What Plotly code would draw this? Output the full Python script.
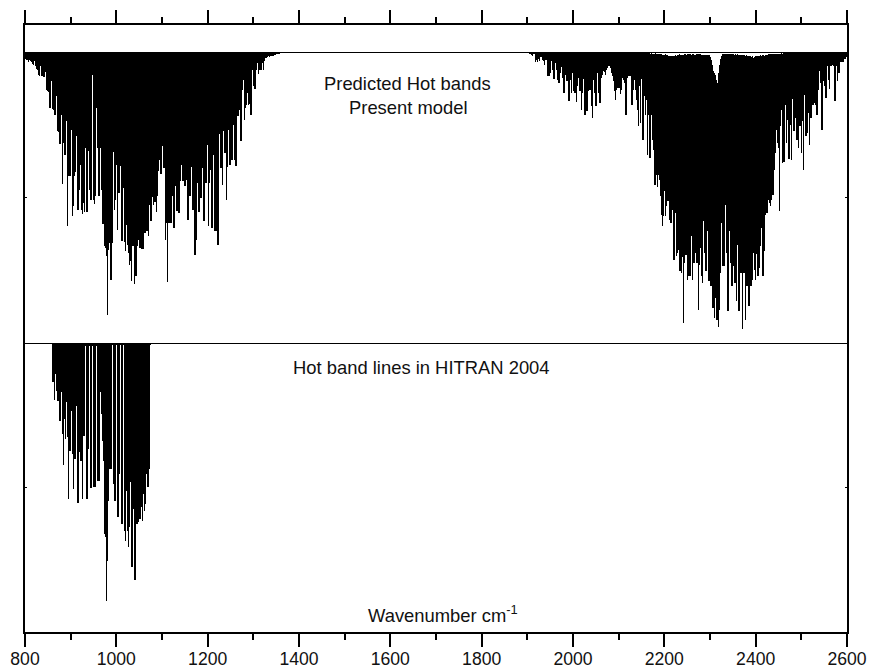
import plotly.graph_objects as go

# Absorption depth, arbitrary units (larger = stronger line). Baseline of both panels = 9.
BASE = 9
STEP = 1800 / 822

# Predicted hot bands, low-wavenumber band
pred_a_start = 800 + 0.5 * STEP
pred_a = [
 28,30,32,38,32,35,38,42,45,35,50,58,62,75,78,50,78,80,82,82,
 68,120,125,128,175,175,95,178,180,195,195,140,245,248,283,283,195,402,280,315,
 315,215,530,378,378,378,240,498,470,380,368,260,482,482,420,345,480,492,460,488,
 295,488,488,305,420,450,450,75,450,462,440,175,295,440,440,295,420,522,522,590,
 595,620,795,600,580,690,690,580,308,482,450,345,540,430,430,350,575,575,415,578,
 605,525,585,610,645,635,695,590,590,702,680,680,590,570,595,595,597,597,598,550,
 550,545,545,560,465,515,515,442,465,458,458,488,440,365,330,372,372,290,355,355,
 570,520,697,520,520,520,520,440,535,535,410,485,485,490,490,395,345,395,395,410,
 410,390,510,510,440,440,352,480,480,615,615,572,400,488,488,445,445,355,515,515,
 400,400,285,530,400,360,535,535,315,545,545,545,585,585,252,355,355,405,245,310,
 310,450,352,240,345,345,330,330,225,330,350,350,200,200,180,275,275,120,92,210,
 175,165,130,165,162,197,197,60,110,118,118,60,40,72,62,62,62,40,60,35,
 25,25,22,20,22,20,18,18,18,16,16,14,14,12,11,10,10,10,
]

# Predicted hot bands, high-wavenumber band
pred_b_start = 800 + 503.5 * STEP
pred_b = [
 10,12,
 12,16,20,14,12,38,30,38,28,35,22,22,30,35,45,32,32,80,78,78,
 70,33,60,88,88,40,60,90,100,100,70,52,85,130,130,75,95,95,155,155,
 90,130,70,125,130,130,158,110,85,125,125,180,130,88,195,195,185,185,125,120,
 120,170,205,90,130,168,168,70,130,160,160,85,75,65,68,75,60,55,48,48,
 55,70,80,95,125,150,120,115,115,115,132,120,85,90,100,197,197,85,80,80,
 80,165,165,120,90,120,150,180,230,110,
 220,88,270,270,140,195,150,315,195,325,325,195,270,300,405,405,375,412,375,390,
 440,495,528,500,425,500,470,455,455,510,520,520,480,630,630,490,620,610,600,665,
 665,670,622,820,640,615,615,690,680,680,680,560,690,640,640,610,640,640,780,645,
 595,680,700,515,610,665,665,545,695,695,710,710,775,775,805,745,810,810,832,780,
 670,520,650,650,650,465,610,785,785,545,640,710,710,650,700,700,755,585,785,785,
 670,670,838,670,670,812,710,710,768,768,710,710,692,610,660,690,612,680,680,655,
 590,535,678,678,605,495,490,490,450,460,468,450,435,435,360,310,240,280,295,485,
 230,180,340,338,338,165,280,212,328,328,225,332,148,245,245,205,270,270,295,230,
 230,310,215,360,135,258,258,250,190,285,205,205,165,165,160,165,195,195,120,65,
 100,242,242,95,110,145,145,50,90,118,50,50,45,50,155,155,50,93,70,70,
 38,38,38,38,28,28,22,
]

# White gaps at the top of the high band (Q-branch dip near 2320), read from the top edge
gap_start = 800 + 624.5 * STEP
gap = [
 10,11,10,12,11,12,10,11,13,12,12,14,13,15,16,15,14,15,17,18,
 18,19,18,20,20,18,17,18,16,15,14,15,16,15,15,14,14,15,14,13,
 13,14,15,14,14,15,15,14,14,13,13,14,15,16,15,16,17,15,16,16,
 17,22,30,45,65,70,75,90,100,70,45,28,18,13,12,12,11,12,11,12,
 13,13,12,14,13,15,14,15,14,15,16,16,15,17,16,17,18,17,19,20,
 18,19,22,20,24,22,20,19,20,18,18,17,18,16,17,18,16,15,15,14,
 14,13,14,13,14,13,12,12,11,12,11,11,10,11,10,
]

# HITRAN 2004 hot band lines
hitran_start = 800 + 27.5 * STEP
hitran = [
 125,125,178,100,150,182,182,240,240,155,280,372,235,295,185,290,475,330,330,210,
 340,445,355,355,195,487,487,335,360,360,475,285,285,15,475,475,325,15,442,442,
 15,440,440,440,15,420,420,420,155,220,300,360,580,590,780,660,480,385,385,385,
 12,430,480,480,12,528,528,400,12,550,550,12,570,600,450,570,620,560,425,680,
 680,505,718,718,550,550,545,535,535,500,540,460,510,490,400,438,438,385,12,
]

x_major = [800, 1000, 1200, 1400, 1600, 1800, 2000, 2200, 2400, 2600]


def add_band(start, depths, xaxis, yaxis, color="black"):
    fig.add_trace(go.Bar(
        x=[start + i * STEP for i in range(len(depths))],
        y=[d - BASE for d in depths],
        base=BASE, width=0.7 * STEP, xaxis=xaxis, yaxis=yaxis,
        marker=dict(color=color, line=dict(width=0)),
        hoverinfo="skip", showlegend=False))


fig = go.Figure()
nohover = dict(mode="lines", hoverinfo="skip", showlegend=False, cliponaxis=False)

add_band(pred_a_start, pred_a, "x", "y")
add_band(pred_b_start, pred_b, "x", "y")
fig.add_trace(go.Scatter(x=[800, 2600], y=[BASE, BASE], xaxis="x", yaxis="y",
                         line=dict(color="black", width=1), **nohover))
add_band(gap_start, gap, "x", "y", "white")
add_band(hitran_start, hitran, "x2", "y2")
fig.add_trace(go.Scatter(x=[800, 2600], y=[BASE, BASE], xaxis="x2", yaxis="y2",
                         line=dict(color="black", width=1), **nohover))

axis_line = dict(showline=True, linecolor="black", linewidth=1.5, showgrid=False,
                 zeroline=False, automargin=False)
minor = dict(dtick=100, ticks="outside", ticklen=6, tickwidth=1.5, tickcolor="black", showgrid=False)
font = dict(family="Liberation Sans, Arial, sans-serif", size=18.4, color="#111")
tick_font = dict(family="Liberation Sans, Arial, sans-serif", size=17.6, color="#111")

split = (632 - 343) / (632 - 25)
fig.update_layout(
    width=869, height=669,
    margin=dict(l=25, r=22, t=25, b=37),
    paper_bgcolor="white", plot_bgcolor="white",
    font=font, showlegend=False, barmode="overlay", bargap=0,
    xaxis=dict(domain=[0, 1], range=[800, 2600], anchor="y", side="top", tickmode="array",
               tickvals=x_major, showticklabels=False, ticks="outside", ticklen=13, tickwidth=1.5,
               tickcolor="black", minor=minor, **axis_line),
    xaxis2=dict(domain=[0, 1], range=[800, 2600], anchor="y2", side="bottom", tickmode="array",
                tickvals=x_major, ticks="outside", ticklen=13, tickwidth=1.5, tickcolor="black",
                tickfont=tick_font, ticklabelstandoff=-3, minor=minor, **axis_line),
    yaxis=dict(domain=[split, 1], range=[880.5, -73.5], anchor="x", tickmode="array", tickvals=[444],
               showticklabels=False, ticks="inside", ticklen=2, tickwidth=1, tickcolor="black",
               mirror="ticks", **axis_line),
    yaxis2=dict(domain=[0, split], range=[874.5, 7.5], anchor="x2", tickmode="array", tickvals=[441],
                showticklabels=False, ticks="inside", ticklen=2, tickwidth=1, tickcolor="black",
                mirror="ticks", **axis_line),
)


def note(xref, yref, x, y, text):
    fig.add_annotation(xref=xref, yref=yref, x=x, y=y, text=text, showarrow=False, font=font,
                       xanchor="center", yanchor="middle")


note("x", "y", 1638, 102, "Predicted Hot bands")
note("x", "y", 1640, 174, "Present model")
note("x2", "y2", 1669, 81, "Hot band lines in HITRAN 2004")
note("x2", "y2", 1715, 819, "Wavenumber cm<sup>-1</sup>")

fig.write_html("out.html", config=dict(displayModeBar=False),
               post_script="document.body.style.margin='0';document.documentElement.style.overflow='hidden';")
